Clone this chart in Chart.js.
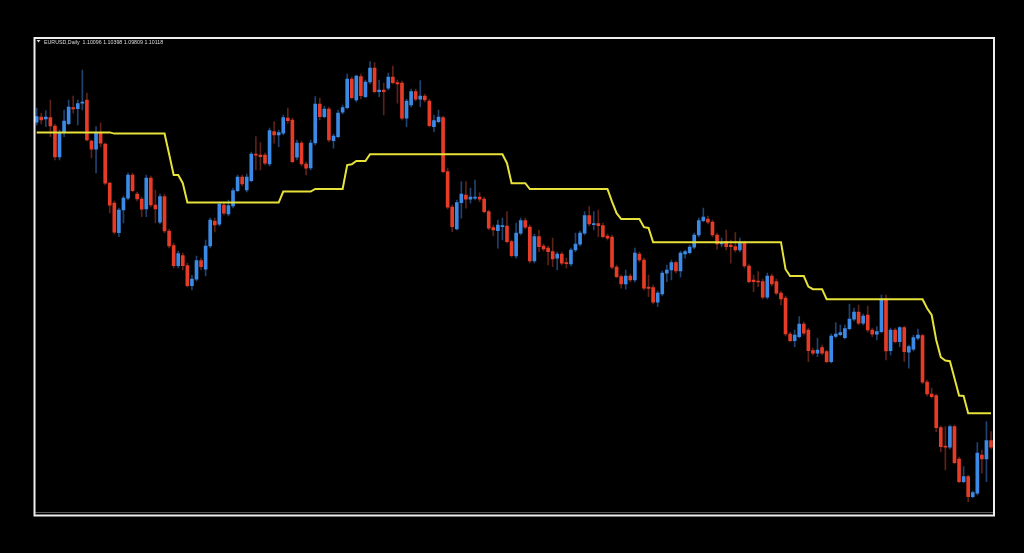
<!DOCTYPE html>
<html>
<head>
<meta charset="utf-8">
<title>EURUSD Daily</title>
<script src="https://cdn.jsdelivr.net/npm/chart.js@4"></script>
<style>
  html, body { margin: 0; padding: 0; background: #000; }
  #wrap { width: 1024px; height: 553px; position: relative; }
</style>
</head>
<body>
<div id="wrap"><canvas id="chart"></canvas></div>
<script>
// Daily EURUSD candles, oldest first
const open = [1.2599,1.2624,1.2615,1.2622,1.258,1.2425,1.2549,1.2592,1.2672,1.2667,
  1.2694,1.271,1.2505,1.2464,1.2547,1.249,1.2294,1.2194,1.2047,1.216,
  1.2219,1.2335,1.224,1.2214,1.2165,1.2319,1.2185,1.2099,1.2227,1.2055,
  1.1982,1.1882,1.1932,1.1882,1.1782,1.1814,1.1907,1.1864,1.198,1.2105,
  1.2089,1.2184,1.214,1.218,1.2257,1.2324,1.226,1.2307,1.244,1.2434,
  1.2435,1.239,1.2552,1.2535,1.2544,1.2619,1.261,1.2424,1.2494,1.239,
  1.237,1.2495,1.2689,1.2627,1.2665,1.2507,1.2527,1.2649,1.2672,1.2815,
  1.271,1.2827,1.2727,1.28,1.287,1.2752,1.276,1.2769,1.2824,1.2797,
  1.2794,1.2619,1.2685,1.2752,1.2714,1.273,1.2705,1.2577,1.2602,1.2622,
  1.2352,1.2174,1.2065,1.2197,1.2235,1.2214,1.2219,1.2225,1.2214,1.2152,
  1.2072,1.2057,1.2077,1.208,1.2002,1.193,1.2044,1.2107,1.2074,1.1905,
  1.2027,1.198,1.1969,1.1952,1.1919,1.1939,1.1897,1.189,1.196,1.1989,
  1.2044,1.2132,1.2087,1.2092,1.2082,1.203,1.2024,1.1875,1.1827,1.179,
  1.183,1.181,1.194,1.191,1.1775,1.1772,1.1699,1.174,1.1844,1.186,
  1.1897,1.1855,1.194,1.1947,1.1974,1.2035,1.2107,1.2115,1.2099,1.2035,
  1.199,1.2002,1.1985,1.1977,1.196,1.1994,1.188,1.181,1.1805,1.1802,
  1.1724,1.183,1.1802,1.1744,1.1719,1.154,1.1507,1.1527,1.1589,1.156,
  1.1457,1.1444,1.1472,1.1452,1.1402,1.1528,1.1537,1.1522,1.1567,1.1614,
  1.165,1.1594,1.1635,1.156,1.1539,1.1552,1.1714,1.1457,1.156,1.1502,
  1.1572,1.1449,1.1464,1.1519,1.1532,1.1299,1.124,1.1232,1.1072,1.0979,
  1.0974,1.1077,1.0915,1.0802,1.0827,1.0727,1.0744,1.0935,1.0915,1.1007];

const high = [1.267,1.2645,1.2657,1.271,1.259,1.256,1.266,1.271,1.273,1.271,
  1.286,1.2745,1.251,1.2577,1.2595,1.2495,1.23,1.2205,1.217,1.223,
  1.2345,1.2345,1.225,1.2225,1.2335,1.233,1.226,1.224,1.224,1.2065,
  1.1995,1.1955,1.1945,1.1895,1.1835,1.193,1.192,1.201,1.212,1.212,
  1.22,1.2195,1.221,1.227,1.2335,1.2335,1.234,1.245,1.2527,1.2497,
  1.2445,1.257,1.2602,1.256,1.2635,1.2669,1.262,1.251,1.2505,1.24,
  1.251,1.2727,1.2719,1.268,1.2675,1.254,1.266,1.2685,1.284,1.2825,
  1.2835,1.284,1.281,1.2902,1.2897,1.281,1.2794,1.2844,1.288,1.281,
  1.2805,1.2715,1.2765,1.2765,1.2807,1.274,1.2715,1.2635,1.266,1.263,
  1.2369,1.2185,1.221,1.2302,1.2302,1.2269,1.231,1.2247,1.2225,1.216,
  1.2085,1.211,1.2119,1.2152,1.201,1.2094,1.212,1.2119,1.2085,1.204,
  1.206,1.199,1.198,1.2019,1.195,1.195,1.1919,1.197,1.2044,1.2055,
  1.2152,1.2177,1.2152,1.216,1.2095,1.204,1.2035,1.1885,1.1835,1.186,
  1.184,1.1969,1.195,1.192,1.1835,1.1785,1.1755,1.1855,1.1885,1.191,
  1.1905,1.1955,1.196,1.1985,1.2045,1.212,1.2169,1.213,1.211,1.2045,
  1.202,1.206,1.201,1.2047,1.2019,1.2005,1.189,1.1835,1.1852,1.1815,
  1.1845,1.184,1.1815,1.1755,1.173,1.155,1.156,1.1627,1.16,1.157,
  1.147,1.1519,1.1485,1.146,1.154,1.1597,1.1585,1.1585,1.169,1.1669,
  1.1685,1.164,1.168,1.157,1.1577,1.1735,1.1735,1.157,1.157,1.1577,
  1.158,1.1485,1.1535,1.1564,1.154,1.131,1.1269,1.124,1.108,1.1077,
  1.1085,1.1085,1.0925,1.0877,1.0835,1.0755,1.0997,1.096,1.1102,1.1052];

const low = [1.2585,1.259,1.2577,1.2527,1.241,1.241,1.2527,1.2585,1.2644,1.2585,
  1.266,1.2505,1.242,1.2345,1.2475,1.2285,1.2145,1.204,1.2027,1.2095,
  1.221,1.225,1.2205,1.2127,1.2127,1.2175,1.2095,1.209,1.2045,1.197,
  1.187,1.187,1.186,1.1775,1.176,1.1805,1.186,1.183,1.197,1.205,
  1.208,1.2135,1.213,1.217,1.225,1.228,1.225,1.23,1.236,1.236,
  1.2385,1.238,1.2494,1.2477,1.2535,1.2594,1.2395,1.241,1.238,1.2335,
  1.236,1.2485,1.261,1.262,1.25,1.2469,1.252,1.264,1.2665,1.2715,
  1.27,1.2715,1.272,1.279,1.2745,1.2727,1.2635,1.276,1.279,1.2694,
  1.261,1.2577,1.2675,1.2705,1.2677,1.27,1.2575,1.2552,1.2595,1.2345,
  1.2165,1.2052,1.206,1.2119,1.2169,1.2194,1.221,1.2202,1.2145,1.206,
  1.203,1.1969,1.201,1.1995,1.1925,1.1919,1.2035,1.2065,1.1895,1.1895,
  1.1952,1.1955,1.1885,1.1877,1.186,1.1885,1.1869,1.188,1.195,1.198,
  1.2035,1.208,1.206,1.2027,1.202,1.201,1.1865,1.182,1.1769,1.1764,
  1.18,1.18,1.19,1.176,1.1727,1.169,1.1677,1.173,1.1802,1.181,
  1.1845,1.1824,1.1919,1.194,1.1965,1.2025,1.21,1.209,1.2025,1.1964,
  1.1977,1.196,1.1894,1.195,1.195,1.187,1.1795,1.1752,1.1777,1.1715,
  1.1715,1.178,1.1735,1.1685,1.153,1.15,1.1477,1.152,1.1535,1.1402,
  1.1435,1.1427,1.1435,1.1395,1.1395,1.152,1.153,1.1515,1.156,1.1605,
  1.1585,1.1585,1.155,1.1527,1.151,1.1545,1.141,1.1435,1.1495,1.1477,
  1.1402,1.1369,1.1455,1.151,1.129,1.123,1.122,1.1052,1.0952,1.086,
  1.0965,1.089,1.0795,1.0795,1.0702,1.072,1.0735,1.0844,1.0802,1.0965];

const close = [1.2627,1.261,1.2624,1.258,1.2425,1.2547,1.2605,1.2674,1.2665,1.2692,
  1.2699,1.251,1.2464,1.2547,1.2494,1.2294,1.2184,1.2049,1.216,1.2219,
  1.2335,1.2257,1.2215,1.2164,1.2319,1.2185,1.2165,1.2227,1.2055,1.198,
  1.1882,1.1942,1.1882,1.1782,1.1814,1.1907,1.1877,1.198,1.211,1.2085,
  1.2189,1.2144,1.2182,1.2257,1.2324,1.229,1.2324,1.244,1.2434,1.2427,
  1.2394,1.2557,1.2535,1.2547,1.2622,1.2607,1.2402,1.2494,1.239,1.2369,
  1.2495,1.2689,1.2627,1.2665,1.251,1.2529,1.2644,1.2672,1.2815,1.2722,
  1.283,1.2732,1.28,1.287,1.2752,1.276,1.2752,1.2824,1.2797,1.279,
  1.2619,1.2705,1.2752,1.2714,1.273,1.271,1.2582,1.2607,1.2624,1.2352,
  1.2174,1.2077,1.2197,1.2239,1.2214,1.2224,1.2224,1.2214,1.2152,1.2069,
  1.206,1.2085,1.2082,1.2002,1.1932,1.2044,1.2107,1.2074,1.1905,1.2027,
  1.1977,1.1965,1.1952,1.1915,1.194,1.1894,1.1892,1.196,1.1989,1.2044,
  1.2132,1.209,1.2092,1.2082,1.2027,1.2019,1.1874,1.1827,1.179,1.183,
  1.181,1.1944,1.191,1.1769,1.1768,1.1699,1.1744,1.1844,1.186,1.1897,
  1.1855,1.1944,1.1952,1.1974,1.2035,1.2107,1.2124,1.2099,1.2035,1.199,
  1.1997,1.1977,1.1977,1.196,1.1994,1.188,1.1802,1.1802,1.18,1.1724,
  1.183,1.179,1.1744,1.1715,1.154,1.1507,1.1534,1.1589,1.1544,1.1457,
  1.1444,1.146,1.1444,1.1402,1.153,1.154,1.1547,1.1567,1.1614,1.165,
  1.1594,1.163,1.156,1.1539,1.1552,1.1714,1.1455,1.156,1.1502,1.1572,
  1.1452,1.1477,1.1522,1.1535,1.1299,1.124,1.1227,1.1072,1.0977,1.0974,
  1.1077,1.0897,1.0802,1.0827,1.0727,1.0747,1.0944,1.0915,1.1007,1.0974];

// yellow trailing stop line
const stopLine = [1.2548,1.2548,1.2548,1.2548,1.2548,1.2548,1.2548,1.2548,1.2548,1.2548,
  1.2548,1.2548,1.2548,1.2548,1.2548,1.2548,1.2548,1.2542,1.2542,1.2542,
  1.2542,1.2542,1.2542,1.2542,1.2542,1.2542,1.2542,1.2542,1.2542,1.244,
  1.2335,1.2335,1.2294,1.2197,1.2197,1.2197,1.2197,1.2197,1.2197,1.2197,
  1.2197,1.2197,1.2197,1.2197,1.2197,1.2197,1.2197,1.2197,1.2197,1.2197,
  1.2197,1.2197,1.2197,1.2197,1.2252,1.2252,1.2252,1.2252,1.2252,1.2252,
  1.2252,1.2265,1.2265,1.2265,1.2265,1.2265,1.2265,1.2265,1.2385,1.2389,
  1.2405,1.2405,1.2405,1.2439,1.2439,1.2439,1.2439,1.2439,1.2439,1.2439,
  1.2439,1.2439,1.2439,1.2439,1.2439,1.2439,1.2439,1.2439,1.2439,1.2439,
  1.2439,1.2439,1.2439,1.2439,1.2439,1.2439,1.2439,1.2439,1.2439,1.2439,
  1.2439,1.2439,1.2439,1.2394,1.2294,1.2294,1.2294,1.2294,1.2265,1.2265,
  1.2265,1.2265,1.2265,1.2265,1.2265,1.2265,1.2265,1.2265,1.2265,1.2265,
  1.2265,1.2265,1.2265,1.2265,1.2265,1.2265,1.2202,1.2144,1.2115,1.2115,
  1.2115,1.2115,1.2115,1.2074,1.207,1.1999,1.1999,1.1999,1.1999,1.1999,
  1.1999,1.1999,1.1999,1.1999,1.1999,1.1999,1.1999,1.1999,1.1999,1.1999,
  1.1999,1.1999,1.1999,1.1999,1.1999,1.1999,1.1999,1.1999,1.1999,1.1999,
  1.1999,1.1999,1.1999,1.1999,1.1864,1.183,1.183,1.183,1.183,1.1777,
  1.1764,1.1764,1.1764,1.1714,1.1714,1.1714,1.1714,1.1714,1.1714,1.1714,
  1.1714,1.1714,1.1714,1.1714,1.1714,1.1714,1.1714,1.1714,1.1714,1.1714,
  1.1714,1.1714,1.1714,1.1714,1.1714,1.1669,1.1635,1.151,1.1424,1.1407,
  1.1404,1.1319,1.1232,1.123,1.1144,1.1144,1.1144,1.1144,1.1144,1.1144];

const headerText = "EURUSD,Daily  1.10096 1.10398 1.09809 1.10118";

const upColor = "#3b8ae6";
const downColor = "#e53b27";
const upWick = "#1f4270";
const downWick = "#5e2117";

const labels = open.map((_, i) => i + 1);
const isUp = open.map((o, i) => close[i] >= o);

// frame, bottom rule and header text
const mt4Frame = {
  id: "mt4Frame",
  afterDraw(chart) {
    const ctx = chart.ctx;
    ctx.save();
    ctx.strokeStyle = "#5a5a5a";
    ctx.lineWidth = 1;
    ctx.beginPath();
    ctx.moveTo(35, 512.5);
    ctx.lineTo(993, 512.5);
    ctx.stroke();

    ctx.strokeStyle = "#eeeeee";
    ctx.lineWidth = 2;
    ctx.strokeRect(34.5, 38, 959.5, 477.5);

    ctx.fillStyle = "#dddddd";
    ctx.beginPath();
    ctx.moveTo(36.5, 40);
    ctx.lineTo(40.5, 40);
    ctx.lineTo(38.5, 42.5);
    ctx.closePath();
    ctx.fill();

    ctx.font = "5.3px 'Liberation Sans', Arial, sans-serif";
    ctx.textBaseline = "alphabetic";
    ctx.fillText(headerText, 44, 43.5);
    ctx.restore();
  },
};

new Chart(document.getElementById("chart"), {
  type: "bar",
  data: {
    labels: labels,
    datasets: [
      {
        type: "line",
        data: stopLine,
        borderColor: "#e6e23a",
        borderWidth: 2,
        pointRadius: 0,
        tension: 0,
        order: 0,
      },
      {
        data: open.map((o, i) => [o, close[i]]),
        backgroundColor: isUp.map((u) => (u ? upColor : downColor)),
        barThickness: 3,
        minBarLength: 1,
        grouped: false,
        order: 1,
      },
      {
        data: low.map((l, i) => [l, high[i]]),
        backgroundColor: isUp.map((u) => (u ? upWick : downWick)),
        barThickness: 1,
        grouped: false,
        order: 2,
      },
    ],
  },
  options: {
    responsive: true,
    maintainAspectRatio: false,
    animation: false,
    layout: {
      padding: { left: 34.4, right: 30.7, top: 38, bottom: 38 },
    },
    plugins: {
      legend: { display: false },
      tooltip: { enabled: false },
    },
    scales: {
      x: { display: false, offset: true },
      y: { display: false, min: 1.0635, max: 1.302 },
    },
  },
  plugins: [mt4Frame],
});
</script>
</body>
</html>
